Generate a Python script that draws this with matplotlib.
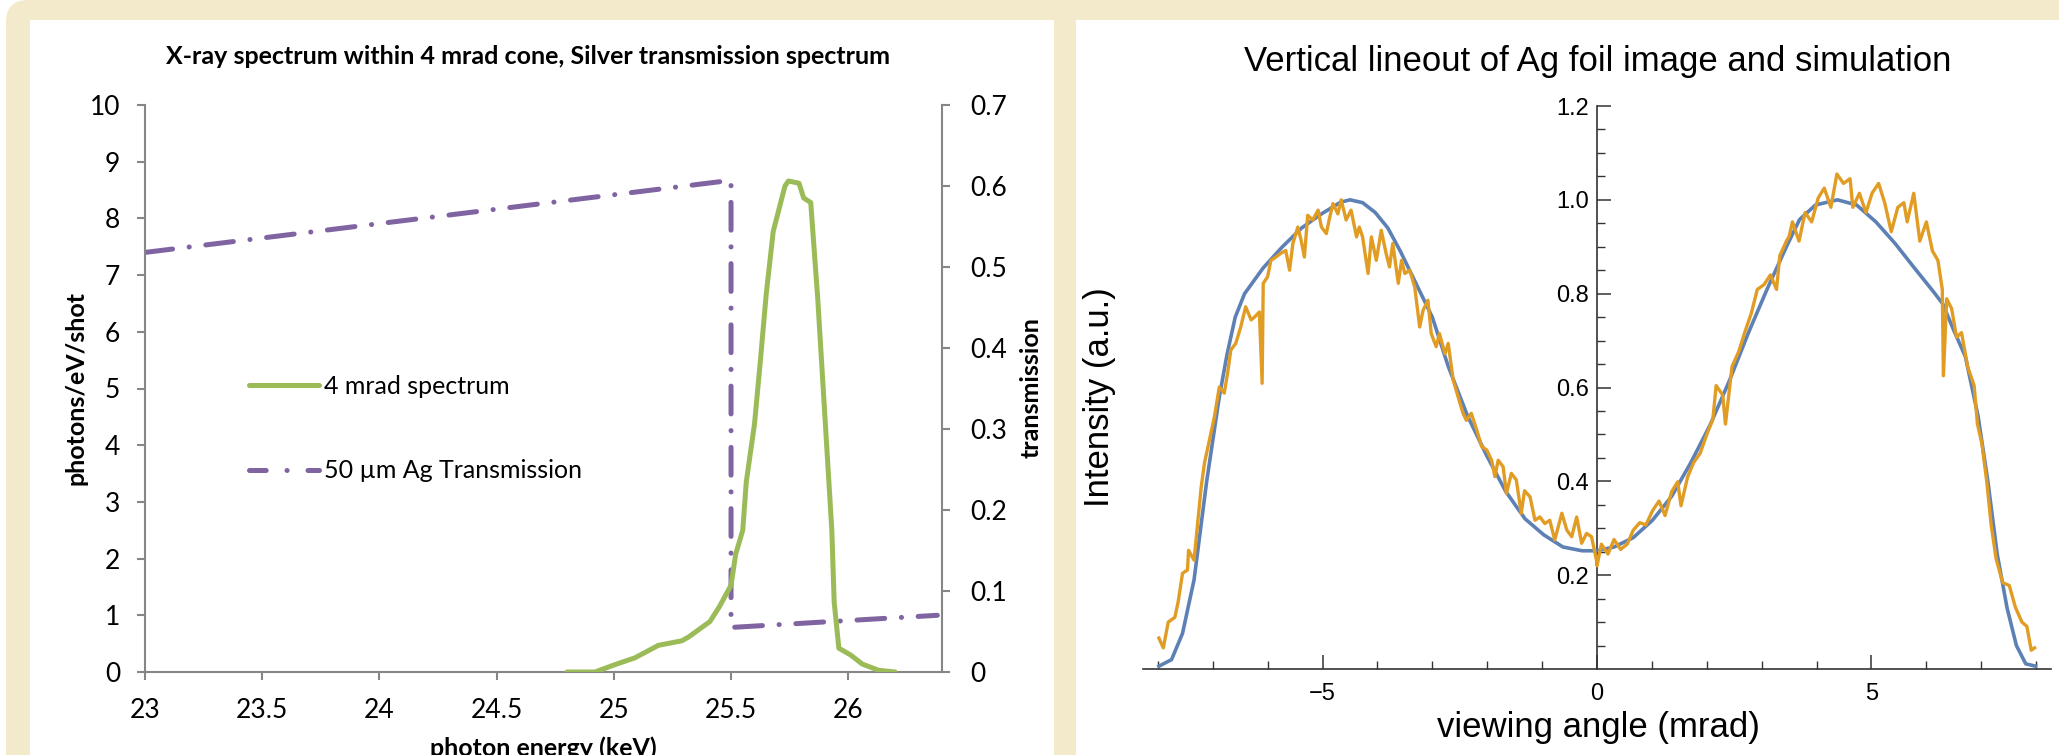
import matplotlib
matplotlib.use("Agg")
import matplotlib.pyplot as plt
from matplotlib.patches import Rectangle, FancyBboxPatch
from matplotlib.lines import Line2D
from matplotlib.ticker import FuncFormatter, FixedLocator

plt.rcParams["lines.scale_dashes"] = False

# ---------------- data: left chart ----------------
spec_energy = [24.80, 24.92, 25.005, 25.09, 25.19, 25.29, 25.32, 25.41, 25.45, 25.50,
               25.52, 25.55, 25.565, 25.60, 25.625, 25.65, 25.68, 25.73, 25.745, 25.79,
               25.81, 25.84, 25.87, 25.90, 25.93, 25.94, 25.96, 26.01, 26.06, 26.13, 26.20]
spec_photons = [0.0, 0.0, 0.13, 0.25, 0.47, 0.55, 0.62, 0.89, 1.15, 1.53,
                2.08, 2.5, 3.35, 4.37, 5.48, 6.66, 7.77, 8.57, 8.66, 8.62,
                8.36, 8.28, 6.58, 4.54, 2.5, 1.23, 0.42, 0.30, 0.14, 0.03, 0.0]
trans_energy = [23.0, 25.5, 25.5, 26.38]
trans_values = [0.518, 0.607, 0.055, 0.070]
left_xticks = [23, 23.5, 24, 24.5, 25, 25.5, 26]
left_yticks = list(range(0, 11))
right_yticks = [0, 0.1, 0.2, 0.3, 0.4, 0.5, 0.6, 0.7]

# ---------------- data: right chart ----------------
sim_angle = [-7.98, -7.75, -7.55, -7.34, -7.11, -6.88, -6.74, -6.59, -6.42, -6.08,
             -5.73, -5.38, -5.02, -4.67, -4.5, -4.27, -4.04, -3.81, -3.58, -3.29,
             -3.0, -2.71, -2.36, -2.01, -1.66, -1.31, -0.97, -0.62, -0.27, 0.0,
             0.31, 0.66, 1.01, 1.36, 1.71, 2.06, 2.41, 2.76, 3.1, 3.45,
             3.69, 3.98, 4.38, 4.73, 5.08, 5.43, 5.78, 6.13, 6.30, 6.48,
             6.71, 6.94, 7.12, 7.29, 7.47, 7.64, 7.81, 7.99]
sim_intensity = [0.006, 0.02, 0.076, 0.19, 0.40, 0.58, 0.67, 0.75, 0.80, 0.855,
                 0.90, 0.94, 0.97, 0.995, 1.0, 0.994, 0.973, 0.94, 0.89, 0.82,
                 0.75, 0.645, 0.54, 0.455, 0.378, 0.32, 0.286, 0.26, 0.252, 0.252,
                 0.26, 0.28, 0.317, 0.368, 0.44, 0.52, 0.614, 0.717, 0.81, 0.90,
                 0.958, 0.989, 1.0, 0.989, 0.953, 0.907, 0.855, 0.804, 0.778, 0.727,
                 0.666, 0.54, 0.40, 0.245, 0.13, 0.05, 0.011, 0.006]

meas_angle = [-7.98, -7.90, -7.81, -7.69, -7.63, -7.55, -7.46, -7.44, -7.34, -7.27,
              -7.21, -7.15, -7.06, -6.97, -6.88, -6.79, -6.73, -6.67, -6.58, -6.49,
              -6.40, -6.30, -6.24, -6.15, -6.10, -6.08, -6.00, -5.94, -5.85, -5.76,
              -5.67, -5.60, -5.54, -5.45, -5.39, -5.33, -5.27, -5.18, -5.08, -5.02,
              -4.93, -4.88, -4.81, -4.72, -4.66, -4.57, -4.48, -4.38, -4.33, -4.27,
              -4.17, -4.11, -4.02, -3.93, -3.84, -3.78, -3.72, -3.62, -3.56, -3.50,
              -3.41, -3.32, -3.23, -3.17, -3.08, -3.02, -2.93, -2.87, -2.77, -2.71,
              -2.62, -2.53, -2.44, -2.38, -2.29, -2.19, -2.10, -2.01, -1.92, -1.86,
              -1.80, -1.71, -1.65, -1.56, -1.47, -1.38, -1.32, -1.22, -1.13, -1.04,
              -0.95, -0.86, -0.77, -0.64, -0.55, -0.46, -0.37, -0.28, -0.19, -0.10,
              -0.01, 0.0, 0.08, 0.20, 0.31, 0.43, 0.55, 0.66, 0.78, 0.89,
              1.01, 1.13, 1.24, 1.36, 1.47, 1.53, 1.65, 1.76, 1.88, 2.00,
              2.11, 2.17, 2.29, 2.34, 2.46, 2.58, 2.69, 2.81, 2.92, 3.04,
              3.16, 3.27, 3.33, 3.45, 3.50, 3.56, 3.68, 3.79, 3.91, 4.03,
              4.14, 4.26, 4.37, 4.49, 4.61, 4.66, 4.78, 4.90, 5.01, 5.13,
              5.24, 5.36, 5.48, 5.59, 5.65, 5.77, 5.88, 6.00, 6.11, 6.21,
              6.29, 6.31, 6.37, 6.46, 6.55, 6.64, 6.75, 6.87, 6.93, 7.01,
              7.10, 7.18, 7.27, 7.39, 7.51, 7.62, 7.74, 7.83, 7.91, 7.97]
meas_intensity = [0.066, 0.045, 0.10, 0.11, 0.143, 0.204, 0.211, 0.253, 0.232, 0.317,
                  0.388, 0.439, 0.488, 0.537, 0.601, 0.588, 0.630, 0.680, 0.694, 0.729,
                  0.772, 0.744, 0.75, 0.761, 0.609, 0.822, 0.836, 0.871, 0.878, 0.886,
                  0.892, 0.85, 0.907, 0.942, 0.914, 0.878, 0.967, 0.957, 0.978, 0.942,
                  0.928, 0.957, 0.992, 0.97, 1.0, 0.957, 0.978, 0.921, 0.942, 0.921,
                  0.843, 0.921, 0.871, 0.935, 0.885, 0.857, 0.907, 0.822, 0.871, 0.843,
                  0.85, 0.814, 0.729, 0.764, 0.786, 0.715, 0.687, 0.715, 0.672, 0.694,
                  0.616, 0.58, 0.545, 0.53, 0.545, 0.509, 0.474, 0.467, 0.445, 0.41,
                  0.445, 0.431, 0.374, 0.417, 0.403, 0.332, 0.38, 0.367, 0.317, 0.324,
                  0.31, 0.317, 0.275, 0.332, 0.296, 0.282, 0.324, 0.268, 0.289, 0.282,
                  0.232, 0.22, 0.266, 0.245, 0.276, 0.255, 0.266, 0.296, 0.312, 0.307,
                  0.337, 0.358, 0.327, 0.378, 0.399, 0.348, 0.409, 0.44, 0.46, 0.50,
                  0.532, 0.604, 0.584, 0.522, 0.645, 0.676, 0.717, 0.758, 0.809, 0.819,
                  0.84, 0.809, 0.881, 0.912, 0.922, 0.953, 0.912, 0.973, 0.953, 1.004,
                  1.025, 0.984, 1.055, 1.035, 1.045, 0.984, 1.014, 0.973, 1.014, 1.035,
                  0.994, 0.932, 0.984, 0.994, 0.953, 1.014, 0.912, 0.953, 0.891, 0.871,
                  0.809, 0.625, 0.789, 0.768, 0.707, 0.717, 0.645, 0.604, 0.522, 0.481,
                  0.399, 0.307, 0.235, 0.184, 0.178, 0.132, 0.10, 0.091, 0.04, 0.045]

# ---------------- figure ----------------
W, H = 2059, 755
fig = plt.figure(figsize=(W / 100, H / 100), dpi=100)
fig.patch.set_facecolor("white")

def fx(px):
    return px / W

def fy(py):
    return 1 - py / H

beige = "#f3eacc"
fig.patches.append(FancyBboxPatch((0.06, -2.0), 22.0, 2.0 + H / 100,
                                  boxstyle="round,pad=0,rounding_size=0.22",
                                  transform=fig.dpi_scale_trans, facecolor=beige,
                                  edgecolor="none", zorder=-10))
fig.patches.append(Rectangle((fx(30), 0), fx(1054 - 30), fy(20), transform=fig.transFigure,
                             facecolor="white", edgecolor="none", zorder=-9))
fig.patches.append(Rectangle((fx(1076), 0), fx(W - 1076 + 5), fy(20), transform=fig.transFigure,
                             facecolor="white", edgecolor="none", zorder=-9))

LFONT = "Lato"
RFONT = "Liberation Sans"
axis_grey = "#868686"
green = "#9bbb59"
purple = "#8064a2"

# ---------------- left chart ----------------
axL = fig.add_axes([fx(145), fy(672), fx(942 - 145), (672 - 105) / H])
axL.set_xlim(23, 26.4)
axL.set_ylim(0, 10)
axL.plot(spec_energy, spec_photons, color=green, lw=3.6, solid_capstyle="round",
         solid_joinstyle="round", zorder=3)
axL.set_xticks(left_xticks)
axL.set_yticks(left_yticks)
fmt = FuncFormatter(lambda v, p: "%g" % v)
axL.xaxis.set_major_formatter(fmt)
axL.yaxis.set_major_formatter(fmt)
for s in ["top", "right"]:
    axL.spines[s].set_visible(False)
for s in ["left", "bottom"]:
    axL.spines[s].set_color(axis_grey)
    axL.spines[s].set_linewidth(1.5)
axL.tick_params(axis="both", direction="out", length=6, width=1.5, color=axis_grey,
                labelsize=19, labelcolor="black")
axL.tick_params(axis="x", pad=13)
axL.tick_params(axis="y", pad=12)
for lab in axL.get_xticklabels() + axL.get_yticklabels():
    lab.set_family(LFONT)

axR = axL.twinx()
axR.set_ylim(0, 0.7)
axR.set_yticks(right_yticks)
axR.yaxis.set_major_formatter(fmt)
for s in ["top", "left", "bottom"]:
    axR.spines[s].set_visible(False)
axR.spines["right"].set_color(axis_grey)
axR.spines["right"].set_linewidth(1.5)
axR.tick_params(axis="y", direction="out", length=6, width=1.5, color=axis_grey,
                labelsize=19, labelcolor="black", pad=14)
for lab in axR.get_yticklabels():
    lab.set_family(LFONT)
tline, = axR.plot(trans_energy, trans_values, color=purple, lw=3.6,
                  dash_capstyle="round", solid_capstyle="round", zorder=2)
tline.set_dashes([20, 12, 0.1, 12])
axR.set_zorder(axL.get_zorder() - 1)
axL.patch.set_visible(False)

h1 = Line2D([], [], color=green, lw=3.6, solid_capstyle="round")
h2 = Line2D([], [], color=purple, lw=3.6, dash_capstyle="round")
h2.set_dashes([12, 15, 0.1, 15])
leg = axL.legend([h1, h2], ["4 mrad spectrum", "50 \u00b5m Ag Transmission"],
                 loc="upper left", bbox_to_anchor=((249 - 145) / 797, (672 - 375) / 567),
                 frameon=False, borderpad=0, borderaxespad=0, handlelength=2.8,
                 handletextpad=0.2, labelspacing=2.45,
                 prop={"family": LFONT, "size": 18})

fig.text(fx(528), fy(57), "X-ray spectrum within 4 mrad cone, Silver transmission spectrum",
         ha="center", va="center", family=LFONT, weight="bold", size=18)
fig.text(fx(76), fy(388), "photons/eV/shot", rotation=90, ha="center", va="center",
         family=LFONT, weight="bold", size=18)
fig.text(fx(1031), fy(388), "transmission", rotation=90, ha="center", va="center",
         family=LFONT, weight="bold", size=18)
fig.text(fx(543), fy(748), "photon energy (keV)", ha="center", va="center",
         family=LFONT, weight="bold", size=18)

# ---------------- right chart ----------------
ax2 = fig.add_axes([fx(1143), fy(669), fx(2051 - 1143), (669 - 106) / H])
ax2.set_xlim(-8.27, 8.27)
ax2.set_ylim(0, 1.2)
ax2.plot(sim_angle, sim_intensity, color="#5e81b5", lw=2.6, zorder=3,
         solid_joinstyle="round")
ax2.plot(meas_angle, meas_intensity, color="#e19c24", lw=2.4, zorder=4,
         solid_joinstyle="round")
for s in ["top", "right"]:
    ax2.spines[s].set_visible(False)
ax2.spines["left"].set_position(("data", 0))
ax2.spines["bottom"].set_position(("data", 0))
for s in ["left", "bottom"]:
    ax2.spines[s].set_color("#333333")
    ax2.spines[s].set_linewidth(1.2)
ax2.set_xticks([-5, 0, 5])
ax2.xaxis.set_minor_locator(FixedLocator([-8, -7, -6, -4, -3, -2, -1, 1, 2, 3, 4, 6, 7, 8]))
ax2.set_yticks([0.2, 0.4, 0.6, 0.8, 1.0, 1.2])
ax2.yaxis.set_major_formatter(FuncFormatter(lambda v, p: "%.1f" % v))
ax2.yaxis.set_minor_locator(FixedLocator([0.05 * k for k in range(1, 24) if k % 4 != 0]))
ax2.tick_params(axis="both", which="major", direction="in", length=10, width=1.1,
                color="#333333", labelsize=17)
ax2.tick_params(axis="both", which="minor", direction="in", length=6, width=1.0,
                color="#333333")
ax2.tick_params(axis="x", which="major", pad=10)
ax2.tick_params(axis="y", which="major", pad=6)
ax2.xaxis.set_major_formatter(FuncFormatter(lambda v, p: ("\u2212%g" % -v) if v < 0 else "%g" % v))
for lab in ax2.get_xticklabels() + ax2.get_yticklabels():
    lab.set_family(RFONT)
ax2.patch.set_visible(False)

fig.text(fx(1598), fy(62), "Vertical lineout of Ag foil image and simulation",
         ha="center", va="center", family=RFONT, size=25)
fig.text(fx(1100), fy(397), "Intensity (a.u.)", rotation=90, ha="center", va="center",
         family=RFONT, size=25)
fig.text(fx(1598), fy(727), "viewing angle (mrad)", ha="center", va="center",
         family=RFONT, size=25)

fig.savefig("out.png", dpi=100)
